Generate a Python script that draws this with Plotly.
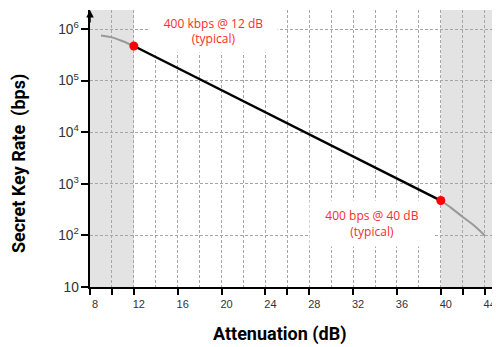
import plotly.graph_objects as go

# ---- data ----
left_tail_db = [9.0, 10.0, 11.0, 12.0]
left_tail_bps = [7.5e5, 6.9e5, 5.8e5, 4.7e5]

main_db = [12.0, 40.0]
main_bps = [4.7e5, 475.0]

right_tail_db = [40.0, 41.0, 42.0, 43.0, 44.0]
right_tail_bps = [475.0, 335.0, 228.0, 157.0, 100.0]

typical_db = [12.0, 40.0]
typical_bps = [4.7e5, 475.0]

tick_db = [8, 10, 12, 16, 20, 24, 26, 28, 32, 36, 40, 42, 44]
tick_labels = ["8", "", "12", "16", "20", "24", "", "28", "32", "36", "40", "", "44"]

shaded_left = [8, 12]
shaded_right = [40, 45.4]

note_top = "400 kbps @ 12 dB<br>(typical)"
note_bottom = "400 bps @ 40 dB<br>(typical)"

GRID = "#a6a6a6"
RED = "#ff2a2a"
TICKFONT = dict(family="Liberation Sans, Arial, sans-serif", size=11, color="#333")

fig = go.Figure()
fig.add_trace(go.Scatter(x=left_tail_db, y=left_tail_bps, mode="lines",
                         line=dict(color="#999999", width=2, shape="spline"),
                         hoverinfo="skip", showlegend=False))
fig.add_trace(go.Scatter(x=right_tail_db, y=right_tail_bps, mode="lines",
                         line=dict(color="#999999", width=2, shape="spline"),
                         hoverinfo="skip", showlegend=False))
fig.add_trace(go.Scatter(x=main_db, y=main_bps, mode="lines",
                         line=dict(color="black", width=2.5),
                         showlegend=False))
fig.add_trace(go.Scatter(x=typical_db, y=typical_bps, mode="markers",
                         marker=dict(color="#ff0000", size=9),
                         showlegend=False))

# shaded regions (below grid)
for a, b in (shaded_left, shaded_right):
    fig.add_shape(type="rect", xref="x", yref="paper", x0=a, x1=b, y0=0, y1=1,
                  fillcolor="#e3e3e3", line_width=0, layer="below")

# labels with white boxes that hide the grid
fig.add_annotation(x=19.27, y=0.924, xref="x", yref="paper", text=note_top,
                   xanchor="center", yanchor="middle",
                   showarrow=False, width=127, height=42, bgcolor="white", borderpad=0,
                   valign="middle",
                   font=dict(family="Open Sans, sans-serif", size=12, color=RED))
fig.add_annotation(x=33.72, y=0.229, xref="x", yref="paper", text=note_bottom,
                   xanchor="center", yanchor="middle",
                   showarrow=False, width=124, height=45, bgcolor="white", borderpad=0,
                   valign="middle",
                   font=dict(family="Open Sans, sans-serif", size=12, color=RED))

# axis titles
fig.add_annotation(x=0.463, y=-0.170, xref="paper", yref="paper", text="<b>Attenuation (dB)</b>",
                   showarrow=False, xanchor="center", yanchor="middle",
                   font=dict(family="Roboto, Arial, sans-serif", size=18, color="black"))
fig.add_annotation(x=-0.173, y=0.444, xref="paper", yref="paper",
                   text="<b>Secret Key Rate\u00a0\u00a0(bps)</b>", textangle=-90,
                   showarrow=False, xanchor="center", yanchor="middle",
                   font=dict(family="Roboto, Arial, sans-serif", size=18, color="black"))

# arrow on top of y axis
fig.add_annotation(x=0, y=1, xref="paper", yref="paper", ax=0, ay=14, axref="pixel", ayref="pixel",
                   text="", showarrow=True, arrowhead=2, arrowsize=1, arrowwidth=1.5,
                   arrowcolor="black")

fig.update_xaxes(range=[8, 45.4], tickmode="array", tickvals=tick_db, ticktext=tick_labels,
                 ticks="outside", ticklen=6, tickwidth=1.5, tickcolor="black",
                 ticklabelshift=5, tickfont=TICKFONT,
                 showline=True, linecolor="black", linewidth=2,
                 showgrid=True, gridcolor=GRID, gridwidth=1, griddash="3px,2px",
                 minor=dict(tick0=8, dtick=2, showgrid=True, gridcolor=GRID,
                            gridwidth=1, griddash="3px,2px", ticks=""),
                 zeroline=False, fixedrange=True)
fig.update_yaxes(type="log", range=[1, 6.37], dtick=1, exponentformat="power",
                 showexponent="all", ticks="outside", ticklen=7, tickwidth=1.5,
                 tickcolor="black", tickfont=TICKFONT,
                 showline=True, linecolor="black", linewidth=2,
                 showgrid=True, gridcolor=GRID, gridwidth=1, griddash="3px,2px",
                 zeroline=False, fixedrange=True)

# the page adds an 8px body margin; margins compensate so the plot sits where the reference has it
fig.update_layout(width=500, height=347, margin=dict(l=82, r=8, t=2, b=68),
                  plot_bgcolor="white", paper_bgcolor="white", showlegend=False)

fig.write_html("out.html")
